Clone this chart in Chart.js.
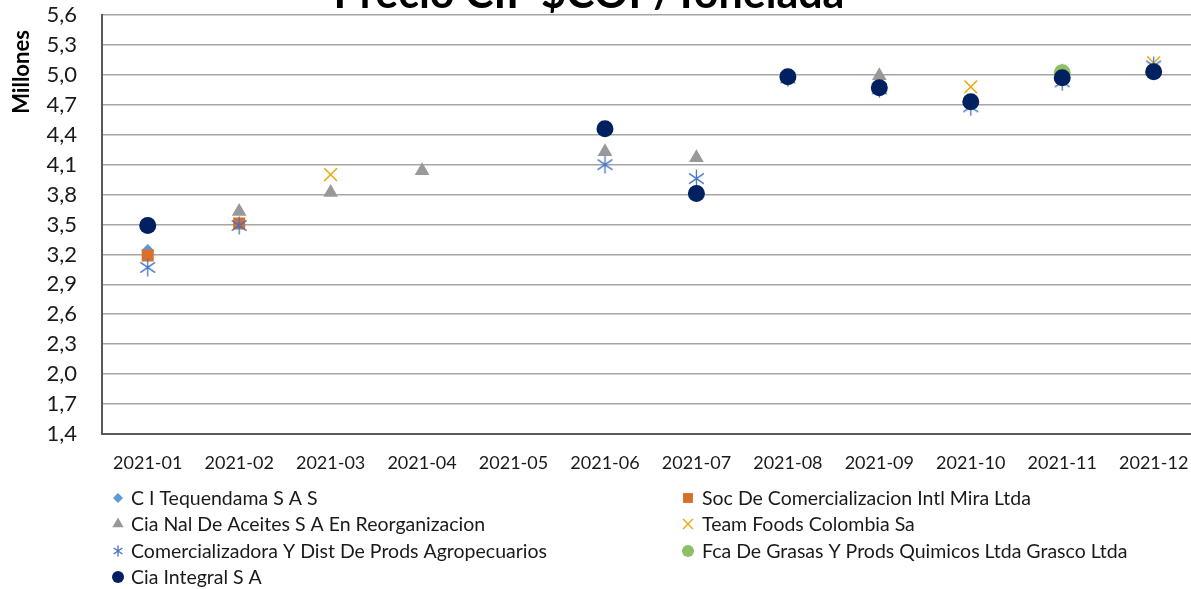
<!DOCTYPE html>
<html>
<head>
<meta charset="utf-8">
<script src="https://cdn.jsdelivr.net/npm/chart.js@4"></script>
<style>
  html, body { margin: 0; padding: 0; background: #fff; overflow: hidden; }
  #wrap { width: 1210px; height: 589px; }
  #grafico { display: block; width: 1210px; height: 589px; }
</style>
</head>
<body>
<div id="wrap"><canvas id="grafico" width="1210" height="589"></canvas></div>
<script>
// Datos (millones de COP por tonelada)
const meses = ['2021-01', '2021-02', '2021-03', '2021-04', '2021-05', '2021-06',
               '2021-07', '2021-08', '2021-09', '2021-10', '2021-11', '2021-12'];
const tequendama     = [3.24, null, null, null, null, null, null, null, null, null, null, null];
const socMira        = [3.19, 3.51, null, null, null, null, null, null, null, null, null, null];
const ciaNal         = [null, 3.63, 3.82, 4.04, null, 4.23, 4.17, 4.96, 4.99, null, 5.03, null];
const teamFoods      = [null, null, 4.00, null, null, null, null, null, null, 4.88, null, 5.12];
const comercializ    = [3.07, 3.49, null, null, null, 4.10, 3.96, 4.97, 4.86, 4.68, 4.93, 5.09];
const grasco         = [null, null, null, null, null, null, null, null, null, null, 5.02, null];
const ciaIntegral    = [3.49, null, null, null, null, 4.46, 3.81, 4.98, 4.87, 4.73, 4.97, 5.03];
const ticksY = { min: 1.4, max: 5.6, paso: 0.3 };

// marcador asterisco como en Excel (X + linea vertical)
function asterisco(tam, color) {
    const c = document.createElement('canvas');
    c.width = tam; c.height = tam;
    const g = c.getContext('2d');
    g.strokeStyle = color;
    g.lineWidth = 1.3;
    const m = tam / 2, r = tam / 2 - 1;
    g.beginPath();
    g.moveTo(m - r * 0.87, m - r * 0.6); g.lineTo(m + r * 0.87, m + r * 0.6);
    g.moveTo(m + r * 0.87, m - r * 0.6); g.lineTo(m - r * 0.87, m + r * 0.6);
    g.moveTo(m, 0.5); g.lineTo(m, tam - 0.5);
    g.stroke();
    return c;
}
const astGrande = asterisco(19, '#4472C4');
const astChico = asterisco(12, '#4472C4');

function serie(label, data, estilo, color, radio, extra) {
    return Object.assign({
        label: label,
        data: data,
        showLine: false,
        pointStyle: estilo,
        pointRadius: radio,
        pointHoverRadius: radio,
        backgroundColor: color,
        borderColor: color,
        pointBorderWidth: 0
    }, extra || {});
}

const datasets = [
    serie('C I Tequendama S A S', tequendama, 'rectRot', '#5B9BD5', 6.5, { order: 6 }),
    serie('Soc De Comercializacion Intl Mira Ltda', socMira, 'rect', '#D9702B', 8.5, { order: 5 }),
    serie('Cia Nal De Aceites S A En Reorganizacion', ciaNal, 'triangle', '#999999', 8.5, { order: 4 }),
    serie('Team Foods Colombia Sa', teamFoods, 'crossRot', '#E8AA10', 9, { order: 3, pointBorderWidth: 1.6 }),
    serie('Comercializadora Y Dist De Prods Agropecuarios', comercializ, astGrande, '#4472C4', 9, { order: 2 }),
    serie('Fca De Grasas Y Prods Quimicos Ltda Grasco Ltda', grasco, 'circle', '#8CC063', 8.5, { order: 1 }),
    serie('Cia Integral S A', ciaIntegral, 'circle', '#002060', 8.5, { order: 0 })
];
const estilosLeyenda = [
    { s: 'rectRot', r: 5 }, { s: 'rect', r: 7 }, { s: 'triangle', r: 6.5 },
    { s: 'crossRot', r: 7, bw: 1.4 }, { s: astChico, r: 6 }, { s: 'circle', r: 6 }, { s: 'circle', r: 6 }
];

const extras = {
    id: 'extras',
    afterDraw(chart) {
        const ctx = chart.ctx;
        ctx.save();
        // titulo (cortado arriba como en la imagen)
        ctx.fillStyle = '#000';
        ctx.font = 'bold 43px Lato';
        ctx.textAlign = 'center';
        ctx.textBaseline = 'alphabetic';
        ctx.fillText('Precio CIF $COP/Tonelada', 589, 8);
        // titulo eje y
        ctx.save();
        ctx.translate(29, 72);
        ctx.rotate(-Math.PI / 2);
        ctx.font = 'bold 22px Lato';
        ctx.textAlign = 'center';
        ctx.textBaseline = 'alphabetic';
        ctx.fillText('Millones', 0, 0);
        ctx.restore();
        // leyenda en dos columnas
        ctx.font = '19.5px Lato';
        ctx.textAlign = 'left';
        ctx.textBaseline = 'middle';
        const filas = [498, 524, 551, 577];
        chart.data.datasets.forEach((ds, i) => {
            const col = i % 2, fila = Math.floor(i / 2);
            const mx = col === 0 ? 118 : 688;
            const tx = col === 0 ? 131 : 702;
            const y = filas[fila];
            const e = estilosLeyenda[i];
            ctx.fillStyle = ds.backgroundColor;
            ctx.strokeStyle = ds.borderColor;
            ctx.lineWidth = e.bw || 1;
            Chart.helpers.drawPoint(ctx, { pointStyle: e.s, radius: e.r, borderWidth: e.bw || 0, rotation: 0 }, mx, y);
            ctx.fillStyle = '#1a1a1a';
            ctx.fillText(ds.label, tx, y + 1);
        });
        ctx.restore();
    }
};

new Chart(document.getElementById('grafico'), {
    type: 'line',
    data: { labels: meses, datasets: datasets },
    options: {
        responsive: false,
        animation: false,
        layout: { padding: { top: 15, right: 0, bottom: 109, left: 0 } },
        plugins: {
            legend: { display: false },
            tooltip: { enabled: false }
        },
        scales: {
            x: {
                offset: true,
                grid: { display: false },
                border: { display: true, color: '#595959', width: 2 },
                ticks: { color: '#1a1a1a', font: { family: 'Lato', size: 18 }, padding: 10, maxRotation: 0, autoSkip: false },
                afterFit: (s) => { s.height = 46; s.paddingLeft = 0; s.paddingRight = 0; }
            },
            y: {
                min: ticksY.min,
                max: ticksY.max,
                grid: { color: '#A6A6A6', lineWidth: 1.6, drawTicks: false },
                border: { display: true, color: '#595959', width: 2 },
                ticks: {
                    stepSize: ticksY.paso,
                    autoSkip: false,
                    color: '#1a1a1a',
                    font: { family: 'Lato', size: 22 },
                    padding: 25,
                    callback: (v) => Number(v).toFixed(1).replace('.', ',')
                },
                afterFit: (s) => { s.width = 102; s.paddingTop = 0; s.paddingBottom = 0; }
            }
        }
    },
    plugins: [extras]
});
</script>
</body>
</html>
